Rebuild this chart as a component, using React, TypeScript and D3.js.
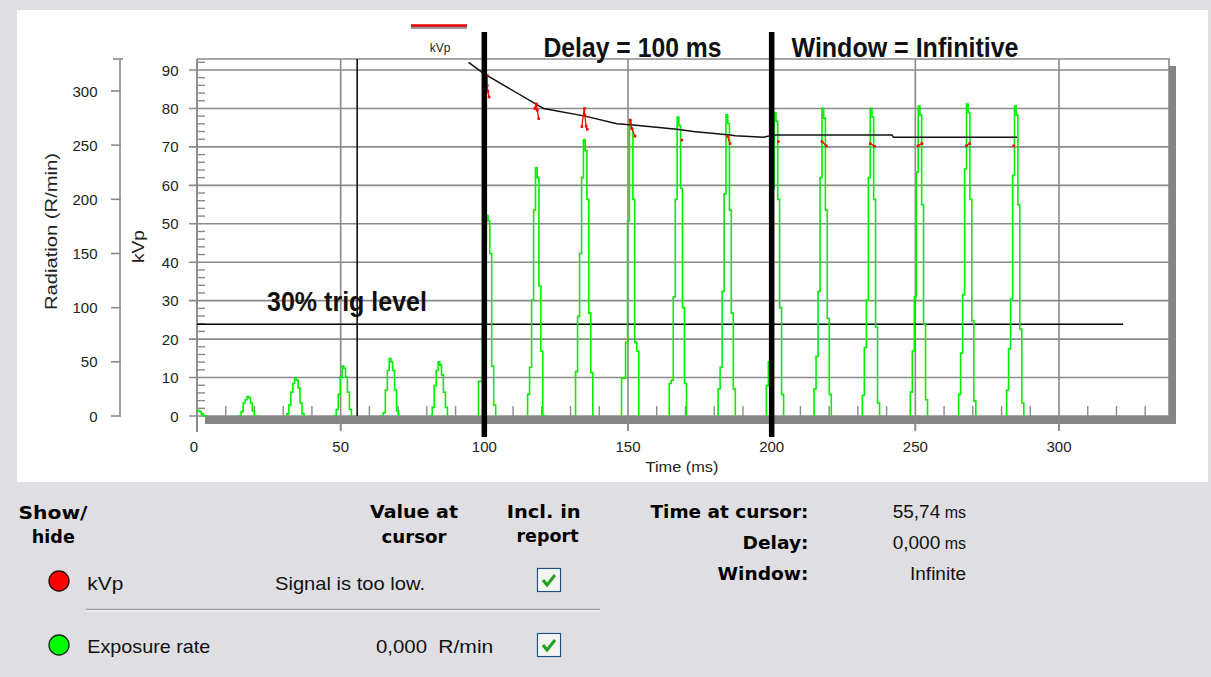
import React from "react";
import * as d3 from "d3";

// ---------- data ----------
const timeTicks = [0, 50, 100, 150, 200, 250, 300];
const kvpTicks = [0, 10, 20, 30, 40, 50, 60, 70, 80, 90];
const radiationTicks = [0, 50, 100, 150, 200, 250, 300];

// Exposure rate (R/min): pulse centre times (ms) and sampled values at offsets (ms)
const pulseCenters = [0.8, 17.9, 34.5, 51.0, 67.4, 84.4, 101.2, 118.3, 135.0, 151.0, 167.6, 184.6, 201.4, 218.0, 234.8, 251.5, 268.3, 285.0];
const pulseOffsets = [-3.6, -2.9, -2.2, -1.5, -0.8, -0.2, 0.4, 1.0, 1.7, 2.4, 3.1];
const pulseValues = [
  [0, 0, 0, 4, 5, 5, 4, 2, 0, 0, 0],
  [0, 0, 4, 12, 15, 18, 17, 12, 5, 0, 0],
  [0, 2, 10, 22, 30, 35, 33, 26, 12, 2, 0],
  [0, 0, 6, 20, 36, 46, 44, 36, 22, 6, 0],
  [0, 0, 3, 24, 42, 53, 50, 42, 24, 5, 0],
  [0, 0, 8, 28, 42, 50, 47, 38, 22, 8, 0],
  [0, 32, 32, 80, 160, 185, 180, 150, 46, 10, 0],
  [0, 20, 45, 107, 190, 229, 220, 120, 60, 0, 0],
  [0, 41, 92, 150, 220, 255, 245, 200, 95, 40, 0],
  [0, 35, 35, 68, 180, 273, 265, 200, 68, 60, 0],
  [0, 30, 33, 110, 200, 276, 268, 210, 100, 30, 0],
  [0, 25, 45, 115, 205, 278, 270, 190, 95, 25, 0],
  [0, 28, 50, 120, 210, 280, 272, 200, 100, 20, 0],
  [0, 25, 55, 115, 220, 284, 275, 190, 90, 20, 0],
  [0, 19, 63, 107, 220, 284, 276, 200, 82, 12, 0],
  [0, 22, 60, 110, 225, 286, 278, 195, 85, 15, 0],
  [0, 20, 58, 112, 228, 288, 280, 200, 88, 14, 0],
  [0, 24, 62, 108, 222, 286, 278, 195, 80, 12, 0],
];

// kVp samples (ms, kVp), one group per pulse
const kvpSamples: [number, number][][] = [
  [[101.0, 88.6], [101.0, 86.0], [101.2, 84.5], [101.6, 83.0]],
  [[117.5, 80.0], [118.1, 81.2], [118.4, 79.6], [118.9, 77.4]],
  [[133.9, 75.3], [134.8, 80.0], [135.0, 78.2], [135.4, 75.4], [135.8, 74.6]],
  [[150.7, 77.0], [151.3, 74.8], [152.4, 72.8]],
  [[168.7, 71.8]],
  [[184.6, 72.8], [185.5, 70.9]],
  [[202.3, 71.4]],
  [[217.5, 71.4], [219.0, 70.3]],
  [[234.3, 70.9], [235.8, 70.2]],
  [[250.9, 70.3], [252.3, 70.9]],
  [[267.7, 70.3], [268.9, 70.9]],
  [[284.2, 70.3]],
];

// kVp running average line
const kvpTrendTimes = [94.5, 99.7, 118.3, 120.6, 135.1, 146.1, 151.8, 167.0, 172.7, 185.6, 187.3, 197.2, 200.5, 241.9, 242.4, 285.4];
const kvpTrendValues = [92.0, 89.1, 81.0, 80.0, 78.0, 76.0, 75.7, 74.6, 74.0, 73.1, 72.9, 72.5, 73.1, 73.1, 72.5, 72.5];

const cursorTime = 55.74;
const delayTime = 100;
const windowTime = 200;
const trigLevel = 84.6; // R/min (30% of peak)
const trigEndTime = 322.3;

// ---------- component ----------
const sans = "'Liberation Sans', Arial, sans-serif";
const boldSans = "'DejaVu Sans', Verdana, sans-serif";

function CheckBox({ x, y }: { x: number; y: number }) {
  return (
    <g>
      <rect x={x + 0.5} y={y + 0.5} width={23} height={23} fill="#ffffff" stroke="#1c5180" strokeWidth={1.2} />
      <rect x={x + 2} y={y + 2} width={20} height={20} fill="#f4f4f0" />
      <path d={`M${x + 6},${y + 12} L${x + 10},${y + 17} L${x + 18},${y + 7}`} fill="none" stroke="#21a121" strokeWidth={3} />
    </g>
  );
}

export default function App() {
  const L = 197, T = 59, R = 1169, B = 416;
  const x = d3.scaleLinear().domain([0, 300]).range([197, 1059]);
  const yK = d3.scaleLinear().domain([0, 90]).range([416, 70]);
  const yR = d3.scaleLinear().domain([0, 300]).range([416, 91]);
  const grid = "#8a8a8a";

  const pulseLine = d3
    .line<[number, number]>()
    .x((d) => x(d[0]))
    .y((d) => yR(d[1]))
    .curve(d3.curveStep);
  const kLine = d3
    .line<[number, number]>()
    .x((d) => x(d[0]))
    .y((d) => yK(d[1]));

  const minorX = d3.range(10, 331, 10).filter((v) => v % 50 !== 0);
  const minorK = d3.range(2, 93, 2).filter((v) => v % 10 !== 0);

  const pulses = pulseCenters.map((c, i) =>
    pulseOffsets.map((o, j) => [c + o, pulseValues[i][j]] as [number, number])
  );
  const trend = kvpTrendTimes.map((t, i) => [t, kvpTrendValues[i]] as [number, number]);

  return (
    <svg width={1211} height={677} style={{ position: "fixed", left: 0, top: 0 }} fontFamily={sans}>
      <defs>
        <clipPath id="plotClip">
          <rect x={L} y={T} width={R - L} height={B - T + 1} />
        </clipPath>
      </defs>
      <rect x={0} y={0} width={1211} height={677} fill="#dfdfe3" />
      <rect x={17} y={10} width={1191} height={472} fill="#ffffff" />

      {/* horizontal gridlines (kVp) */}
      {kvpTicks.map((v) => (
        <line key={"hk" + v} x1={189} x2={R} y1={yK(v)} y2={yK(v)} stroke={grid} strokeWidth={1.6} />
      ))}
      {/* vertical gridlines */}
      {timeTicks.map((v) => (
        <line key={"vg" + v} x1={x(v)} x2={x(v)} y1={T} y2={431} stroke={grid} strokeWidth={1.6} />
      ))}
      {/* frame */}
      <line x1={L} x2={R + 1} y1={T} y2={T} stroke={grid} strokeWidth={1.6} />
      <line x1={R} x2={R} y1={T} y2={B} stroke={grid} strokeWidth={1.6} />
      <line x1={L} x2={L} y1={T} y2={432} stroke={grid} strokeWidth={1.6} />
      {minorK.map((v) => (
        <line key={"mk" + v} x1={L} x2={205} y1={yK(v)} y2={yK(v)} stroke={grid} strokeWidth={1.4} />
      ))}
      {minorX.map((v) => (
        <line key={"mx" + v} x1={x(v)} x2={x(v)} y1={406} y2={B} stroke={grid} strokeWidth={1.4} />
      ))}

      {/* radiation axis */}
      <line x1={120} x2={120} y1={T} y2={B} stroke={grid} strokeWidth={1.6} />
      <line x1={113} x2={123} y1={T} y2={T} stroke={grid} strokeWidth={1.6} />
      {radiationTicks.map((v) => (
        <line key={"rt" + v} x1={111} x2={121} y1={yR(v)} y2={yR(v)} stroke={grid} strokeWidth={1.6} />
      ))}
      {radiationTicks.map((v) => (
        <text key={"rl" + v} x={97.5} y={yR(v) + 5.5} fontSize={15} textAnchor="end" fill="#222">
          {v}
        </text>
      ))}
      {kvpTicks.map((v) => (
        <text key={"kl" + v} x={178.5} y={yK(v) + 5.5} fontSize={15} textAnchor="end" fill="#222">
          {v}
        </text>
      ))}
      {timeTicks.map((v) => (
        <text key={"tl" + v} x={x(v) - (v === 0 ? 3 : 0)} y={451.5} fontSize={15} textAnchor="middle" fill="#222">
          {v}
        </text>
      ))}
      <text x={682} y={472} fontSize={15} textAnchor="middle" textLength={73} lengthAdjust="spacingAndGlyphs" fill="#222">
        Time (ms)
      </text>
      <text transform="translate(57,231.5) rotate(-90)" fontSize={16} textAnchor="middle" textLength={157} lengthAdjust="spacingAndGlyphs" fill="#222">
        Radiation (R/min)
      </text>
      <text transform="translate(144,246.5) rotate(-90)" fontSize={16} textAnchor="middle" textLength={33} lengthAdjust="spacingAndGlyphs" fill="#222">
        kVp
      </text>

      {/* trig level & cursor */}
      <line x1={L} x2={x(trigEndTime)} y1={yR(trigLevel)} y2={yR(trigLevel)} stroke="#000" strokeWidth={1.5} />
      <line x1={x(cursorTime)} x2={x(cursorTime)} y1={T} y2={B} stroke="#000" strokeWidth={1.5} />

      {/* exposure rate pulses */}
      <g clipPath="url(#plotClip)">
        {pulses.map((p, i) => (
          <path key={"p" + i} d={pulseLine(p) || ""} fill="none" stroke="#00f000" strokeWidth={1.6} />
        ))}
      </g>

      {/* shadow / x-axis band */}
      <rect x={R} y={66} width={7} height={358} fill="#858585" />
      <rect x={205} y={B} width={R + 7 - 205} height={8} fill="#858585" />
      <line x1={x(0)} x2={x(0)} y1={B} y2={432} stroke={grid} strokeWidth={1.6} />
      {timeTicks.map((v) => (
        <line key={"vb" + v} x1={x(v)} x2={x(v)} y1={B} y2={431} stroke={grid} strokeWidth={1.6} />
      ))}

      {/* kVp trend and samples */}
      <path d={kLine(trend) || ""} fill="none" stroke="#111" strokeWidth={1.5} />
      {kvpSamples.map((g, i) => (
        <g key={"ks" + i}>
          {g.length > 1 && <path d={kLine(g) || ""} fill="none" stroke="#ff0000" strokeWidth={1.3} />}
          {g.map((d, j) => (
            <rect key={j} x={x(d[0]) - 1.2} y={yK(d[1]) - 1.2} width={2.6} height={2.6} fill="#ff0000" />
          ))}
        </g>
      ))}

      {/* delay / window markers */}
      <line x1={x(delayTime)} x2={x(delayTime)} y1={32} y2={437} stroke="#000" strokeWidth={5.5} />
      <line x1={x(windowTime)} x2={x(windowTime)} y1={32} y2={437} stroke="#000" strokeWidth={5.5} />

      {/* annotations */}
      <text x={543.5} y={57} fontSize={28} fontWeight="bold" textLength={178} lengthAdjust="spacingAndGlyphs" fill="#111">
        Delay = 100 ms
      </text>
      <text x={791.5} y={57} fontSize={28} fontWeight="bold" textLength={227} lengthAdjust="spacingAndGlyphs" fill="#111">
        Window = Infinitive
      </text>
      <text x={267} y={311} fontSize={28} fontWeight="bold" textLength={160} lengthAdjust="spacingAndGlyphs" fill="#111">
        30% trig level
      </text>

      {/* legend */}
      <line x1={411} x2={467} y1={27} y2={27} stroke="#999" strokeWidth={4} />
      <line x1={411} x2={467} y1={25.5} y2={25.5} stroke="#e00000" strokeWidth={2.5} />
      <text x={440} y={52} fontSize={12} textAnchor="middle" fill="#222">
        kVp
      </text>

      {/* ---------- bottom panel ---------- */}
      <g fontFamily={boldSans} fontWeight="bold" fill="#000" fontSize={18}>
        <text x={53} y={519} textAnchor="middle" textLength={69} lengthAdjust="spacingAndGlyphs">Show/</text>
        <text x={53.3} y={543} textAnchor="middle" textLength={43} lengthAdjust="spacingAndGlyphs">hide</text>
        <text x={414} y={518} textAnchor="middle" textLength={88} lengthAdjust="spacingAndGlyphs">Value at</text>
        <text x={414} y={543} textAnchor="middle" textLength={65} lengthAdjust="spacingAndGlyphs">cursor</text>
        <text x={543.7} y={518} textAnchor="middle" textLength={74} lengthAdjust="spacingAndGlyphs">Incl. in</text>
        <text x={547.5} y={542} textAnchor="middle" textLength={62} lengthAdjust="spacingAndGlyphs">report</text>
        <text x={808.5} y={518} textAnchor="end" textLength={158} lengthAdjust="spacingAndGlyphs">Time at cursor:</text>
        <text x={808.5} y={549} textAnchor="end" textLength={66} lengthAdjust="spacingAndGlyphs">Delay:</text>
        <text x={808.5} y={580} textAnchor="end" textLength={91} lengthAdjust="spacingAndGlyphs">Window:</text>
      </g>
      <g fontFamily={sans} fill="#111" fontSize={19}>
        <text x={87.3} y={590} textLength={36} lengthAdjust="spacingAndGlyphs">kVp</text>
        <text x={275} y={590} textLength={150} lengthAdjust="spacingAndGlyphs">Signal is too low.</text>
        <text x={87.3} y={653} textLength={123} lengthAdjust="spacingAndGlyphs">Exposure rate</text>
        <text x={376} y={653} textLength={51} lengthAdjust="spacingAndGlyphs">0,000</text>
        <text x={438.3} y={653} textLength={55} lengthAdjust="spacingAndGlyphs">R/min</text>
        <text x={966} y={518} textAnchor="end">55,74<tspan fontSize={16}> ms</tspan></text>
        <text x={966} y={549} textAnchor="end">0,000<tspan fontSize={16}> ms</tspan></text>
        <text x={966} y={580} textAnchor="end">Infinite</text>
      </g>
      <circle cx={59} cy={581} r={10} fill="#ff0000" stroke="#2a0000" strokeWidth={1.3} />
      <circle cx={59} cy={645} r={10} fill="#00ff00" stroke="#002a00" strokeWidth={1.3} />
      <line x1={86} x2={600} y1={609.5} y2={609.5} stroke="#a0a0a0" strokeWidth={1.5} />
      <line x1={86} x2={600} y1={611} y2={611} stroke="#ffffff" strokeWidth={1.2} />
      <CheckBox x={537} y={568} />
      <CheckBox x={537} y={633} />
    </svg>
  );
}
